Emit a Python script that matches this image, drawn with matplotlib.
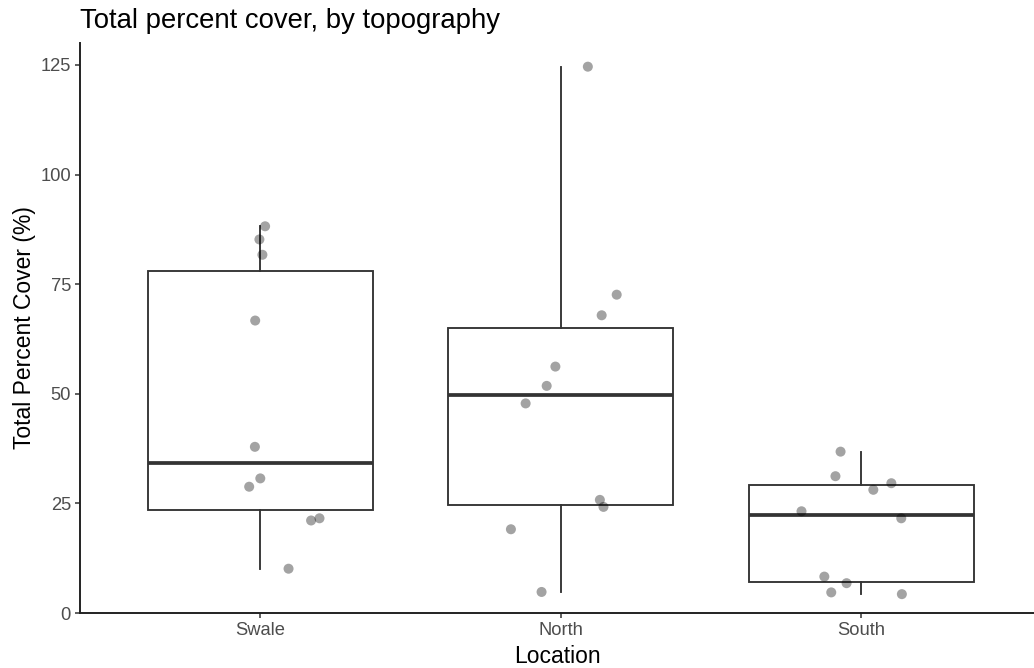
import numpy as np
from matplotlib import pyplot as plt

plt.rcParams['font.family'] = ['Liberation Sans', 'DejaVu Sans']

# данные
locations = ['Swale', 'North', 'South']
swale = [88.2, 85.2, 81.7, 66.7, 37.9, 30.7, 28.8, 21.1, 21.6, 10.1]
north = [124.6, 72.6, 67.9, 56.2, 51.8, 47.8, 25.8, 24.2, 19.1, 4.8]
south = [36.8, 31.2, 29.6, 28.1, 23.2, 21.6, 8.3, 6.8, 4.7, 4.3]
# смещения джиттера (в долях категории), тоже с картинки
swale_jitter = [0.016, -0.003, 0.007, -0.017, -0.018, 0.0, -0.037, 0.169, 0.197, 0.094]
north_jitter = [0.090, 0.186, 0.136, -0.018, -0.047, -0.117, 0.130, 0.142, -0.166, -0.064]
south_jitter = [-0.069, -0.086, 0.100, 0.040, -0.199, 0.133, -0.123, -0.049, -0.100, 0.135]
y_ticks = [0, 25, 50, 75, 100, 125]

groups = [swale, north, south]
jitters = [swale_jitter, north_jitter, south_jitter]

fig = plt.figure(figsize=(10.34, 6.68), dpi=100)
ax = fig.add_axes([80 / 1034, 55 / 668, 954 / 1034, 570 / 668])

pos = np.arange(1, len(locations) + 1)
line_col = '#333333'
ax.boxplot(groups, positions=pos, widths=0.75, whis=1.5, showcaps=False,
           showfliers=False, patch_artist=True,
           boxprops=dict(facecolor='white', edgecolor=line_col, linewidth=1.35),
           whiskerprops=dict(color=line_col, linewidth=1.35),
           medianprops=dict(color=line_col, linewidth=2.7),
           zorder=1)

for p, vals, jit in zip(pos, groups, jitters):
    ax.scatter(p + np.array(jit), vals, s=52, color='black', alpha=0.36,
               edgecolors='none', zorder=3)

ax.set_xlim(0.4, 0.4 + 954 / 300.5)
ax.set_ylim(0, 130)
ax.set_xticks(pos)
ax.set_xticklabels(locations)
ax.set_yticks(y_ticks)

for side in ['top', 'right']:
    ax.spines[side].set_visible(False)
for side in ['left', 'bottom']:
    ax.spines[side].set_linewidth(1.4)
    ax.spines[side].set_color('#222222')
    ax.spines[side].set_zorder(4)

ax.tick_params(axis='both', length=3.5, width=1.1, color='#333333',
               labelcolor='#4d4d4d', labelsize=13.2)
ax.tick_params(axis='y', pad=3)
ax.tick_params(axis='x', pad=3)

ax.set_xlabel('Location', fontsize=16.5, color='black', labelpad=4)
ax.set_ylabel('Total Percent Cover (%)', fontsize=16.5, color='black', labelpad=3)
ax.set_title('Total percent cover, by topography', fontsize=19.8, loc='left',
             pad=11, color='black')

plt.savefig('out.png', dpi=100)
